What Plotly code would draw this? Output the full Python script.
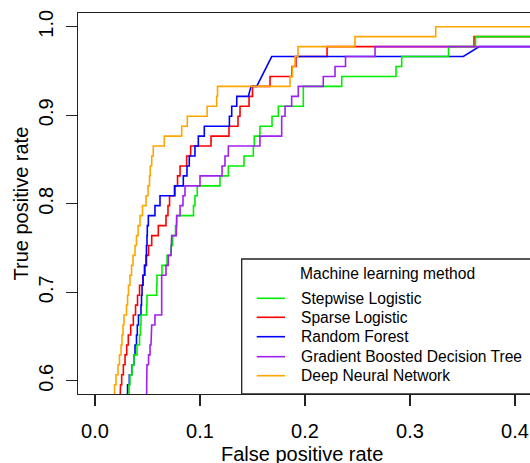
import plotly.graph_objects as go

# ---------------- data (ROC curves) ----------------
# Each series: x = false positive rate where a TPR level starts, y = TPR level (staircase)
names = ["Stepwise Logistic", "Sparse Logistic", "Random Forest",
         "Gradient Boosted Decision Tree", "Deep Neural Network"]
colors = ["#00EE00", "#FF0000", "#0000FF", "#A020F0", "#FFA500"]

tpr_levels = [0.5730, 0.5843, 0.5955, 0.6067, 0.6180, 0.6292, 0.6404, 0.6517, 0.6629,
              0.6742, 0.6854, 0.6966, 0.7079, 0.7191, 0.7303, 0.7416, 0.7528, 0.7640,
              0.7753, 0.7865, 0.7978, 0.8090, 0.8202, 0.8315, 0.8427, 0.8539, 0.8652,
              0.8764, 0.8876, 0.8989, 0.9101, 0.9213, 0.9326, 0.9438, 0.9551, 0.9663,
              0.9775, 0.9888, 1.0000]

stepwise_fpr = [0.0290, 0.0300, 0.0324, 0.0333, 0.0352, 0.0371, 0.0400, 0.0424, 0.0433,
                0.0438, 0.0492, 0.0495, 0.0588, 0.0590, 0.0638, 0.0686, 0.0724, 0.0740,
                0.0767, 0.0778, 0.0938, 0.0952, 0.0974, 0.1190, 0.1270, 0.1419, 0.1508,
                0.1517, 0.1571, 0.1686, 0.1746, 0.1984, 0.1984, 0.2350, 0.2867, 0.2921,
                0.3367, 0.3624, 0.4600]

sparse_fpr = [0.0238, 0.0238, 0.0243, 0.0254, 0.0270, 0.0286, 0.0302, 0.0317, 0.0340,
              0.0365, 0.0386, 0.0405, 0.0424, 0.0457, 0.0476, 0.0490, 0.0510, 0.0540,
              0.0603, 0.0676, 0.0695, 0.0710, 0.0762, 0.0786, 0.0810, 0.0873, 0.0911,
              0.1105, 0.1276, 0.1362, 0.1381, 0.1467, 0.1500, 0.1667, 0.1876, 0.1914,
              0.2210, 0.3610, 0.4400]

# Random forest: staircase up to TPR 0.9213, then tied (diagonal) segments
rf_fpr = [0.0300, 0.0302, 0.0310, 0.0327, 0.0350, 0.0371, 0.0381, 0.0395, 0.0403,
          0.0414, 0.0438, 0.0443, 0.0448, 0.0457, 0.0471, 0.0486, 0.0490, 0.0495,
          0.0498, 0.0508, 0.0571, 0.0619, 0.0757, 0.0841, 0.0876, 0.0898, 0.0952,
          0.0984, 0.1041, 0.1280, 0.1302, 0.1350]
rf_tail_fpr = [0.1460, 0.1486, 0.1540, 0.1683, 0.3508, 0.3660, 0.5000]
rf_tail_tpr = [0.9213, 0.9326, 0.9326, 0.9663, 0.9663, 0.9775, 0.9775]

gbdt_fpr = [0.0486, 0.0490, 0.0492, 0.0492, 0.0495, 0.0510, 0.0524, 0.0533, 0.0540,
            0.0571, 0.0635, 0.0635, 0.0635, 0.0635, 0.0676, 0.0698, 0.0724, 0.0730,
            0.0774, 0.0778, 0.0810, 0.0838, 0.0857, 0.1000, 0.1210, 0.1238, 0.1270,
            0.1571, 0.1778, 0.1778, 0.1810, 0.1873, 0.1936, 0.2174, 0.2286, 0.2386,
            0.2667, 0.4500]

dnn_fpr = [0.0176, 0.0181, 0.0186, 0.0200, 0.0219, 0.0233, 0.0248, 0.0257, 0.0267,
           0.0276, 0.0300, 0.0310, 0.0319, 0.0333, 0.0348, 0.0362, 0.0381, 0.0395,
           0.0410, 0.0429, 0.0452, 0.0486, 0.0505, 0.0519, 0.0526, 0.0540, 0.0555,
           0.0660, 0.0826, 0.0879, 0.1068, 0.1159, 0.1167, 0.1857, 0.1880, 0.1905,
           0.1933, 0.2476, 0.3245]

x_ticks = [0.0, 0.1, 0.2, 0.3, 0.4]
y_ticks = [0.6, 0.7, 0.8, 0.9, 1.0]


def stairs(xs, ys, end_x=None):
    """Expand a horizontal-then-vertical staircase into polyline vertices."""
    ox, oy = [], []
    for i in range(len(xs)):
        ox.append(xs[i]); oy.append(ys[i])
        if i + 1 < len(xs):
            ox.append(xs[i + 1]); oy.append(ys[i])
    if end_x is not None:
        ox.append(end_x); oy.append(ys[-1])
    return ox, oy


curves = {}
curves[0] = stairs(stepwise_fpr, tpr_levels[:len(stepwise_fpr)], 0.5)
curves[1] = stairs(sparse_fpr, tpr_levels[:len(sparse_fpr)], 0.5)
rx, ry = stairs(rf_fpr, tpr_levels[:len(rf_fpr)])
curves[2] = (rx + rf_tail_fpr, ry + rf_tail_tpr)
curves[3] = stairs(gbdt_fpr, tpr_levels[:len(gbdt_fpr)], 0.5)
curves[4] = stairs(dnn_fpr, tpr_levels[:len(dnn_fpr)], 0.5)

fig = go.Figure()
draw_order = [1, 2, 0, 3, 4]
for i in draw_order:
    x, y = curves[i]
    fig.add_trace(go.Scatter(x=x, y=y, mode="lines", name=names[i],
                             line=dict(color=colors[i], width=1.6),
                             showlegend=False, hoverinfo="skip"))

FONT = "Liberation Sans, Arial, sans-serif"
W, H = 530, 463
ml, mr, mt, mb = 78, 0, 13, 69

fig.update_layout(
    width=W, height=H,
    margin=dict(l=ml, r=mr, t=mt, b=mb, pad=0, autoexpand=False),
    paper_bgcolor="white", plot_bgcolor="white",
    font=dict(family=FONT, color="black"),
    showlegend=False,
)
fig.update_xaxes(range=[-0.0162, 0.4143], tickvals=x_ticks,
                 ticktext=[f"{v:.1f}" for v in x_ticks],
                 showgrid=False, zeroline=False, automargin=False,
                 showline=True, linecolor="#222", linewidth=1.3, mirror=True,
                 ticks="outside", ticklen=11, tickwidth=1.3, tickcolor="#222",
                 tickfont=dict(size=20, family=FONT, color="black"),
                 ticklabelstandoff=8)
fig.update_yaxes(range=[0.5850, 1.0155], tickvals=y_ticks,
                 ticktext=[f"{v:.1f}" for v in y_ticks],
                 showgrid=False, zeroline=False, automargin=False,
                 showline=True, linecolor="#222", linewidth=1.3, mirror=False,
                 ticks="outside", ticklen=11, tickwidth=1.3, tickcolor="#222",
                 tickangle=-90,
                 tickfont=dict(size=20, family=FONT, color="black"),
                 ticklabelstandoff=5)

pw = W - ml - mr
ph = H - mt - mb


def px_x(p):
    return (p - ml) / pw


def px_y(p):
    return (H - mb - p) / ph


# axis titles
fig.add_annotation(text="False positive rate", xref="paper", yref="paper",
                   x=px_x(302), y=px_y(454), xanchor="center", yanchor="middle",
                   showarrow=False, font=dict(size=20, family=FONT, color="black"))
fig.add_annotation(text="True positive rate", xref="paper", yref="paper",
                   x=px_x(20.5), y=px_y(204), xanchor="center", yanchor="middle",
                   textangle=-90, showarrow=False,
                   font=dict(size=20, family=FONT, color="black"))

# legend box
fig.add_shape(type="rect", xref="paper", yref="paper",
              x0=px_x(241.7), x1=1.1, y0=0, y1=px_y(259),
              line=dict(color="#222", width=1.3), fillcolor="white", layer="above")
fig.add_annotation(text="Machine learning method", xref="paper", yref="paper",
                   x=px_x(298), y=px_y(273.5), xanchor="left", yanchor="middle",
                   showarrow=False, font=dict(size=15.6, family=FONT, color="black"))
row_y = [298.3, 317.3, 336.7, 356.7, 375.7]
for i in range(5):
    fig.add_shape(type="line", xref="paper", yref="paper",
                  x0=px_x(256.7), x1=px_x(285), y0=px_y(row_y[i]), y1=px_y(row_y[i]),
                  line=dict(color=colors[i], width=1.6), layer="above")
    fig.add_annotation(text=names[i], xref="paper", yref="paper",
                       x=px_x(298.5), y=px_y(row_y[i]), xanchor="left", yanchor="middle",
                       showarrow=False, font=dict(size=15.6, family=FONT, color="black"))

fig.write_html("out.html",
               config={"displayModeBar": False, "staticPlot": True},
               post_script="document.body.style.margin='0';"
                           "document.body.style.overflow='hidden';")
